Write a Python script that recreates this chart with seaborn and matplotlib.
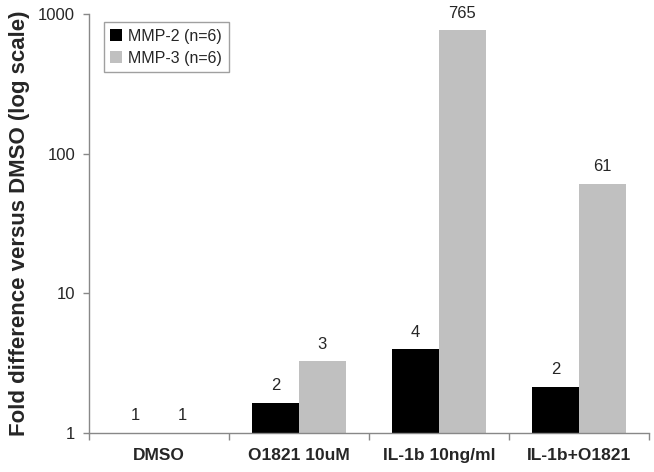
import numpy as np
import pandas as pd
import seaborn as sns
import matplotlib.pyplot as plt
from matplotlib.ticker import FixedLocator, NullFormatter

# values (fold difference vs DMSO)
conditions = ['DMSO', 'O1821 10uM', 'IL-1b 10ng/ml', 'IL-1b+O1821']
mmp2 = [1, 1.64, 3.97, 2.14]
mmp3 = [1, 3.25, 765, 61]
series = ['MMP-2 (n=6)', 'MMP-3 (n=6)']

sns.set_style('white')
plt.rcParams['font.family'] = ['Liberation Sans', 'DejaVu Sans']

# long-form frame for seaborn
df = pd.DataFrame({
    'Condition': conditions * 2,
    'Fold': mmp2 + mmp3,
    'Series': [series[0]] * 4 + [series[1]] * 4,
})

fig = plt.figure(figsize=(6.54, 4.72), dpi=100)
ax = fig.add_axes([0.136, 0.083, 0.856, 0.887])

sns.barplot(data=df, x='Condition', y='Fold', hue='Series',
            palette=['#000000', '#c0c0c0'], width=0.67,
            saturation=1, linewidth=0, ax=ax)
ax.set_yscale('log')
ax.set_ylim(1, 1000)
ax.set_xlim(-0.5, 3.5)

# rounded value labels above each bar
for cont, vals in zip(ax.containers, [mmp2, mmp3]):
    ax.bar_label(cont, labels=[f'{v:.0f}' for v in vals], padding=7, fontsize=12)

# axis styling
for s in ['top', 'right']:
    ax.spines[s].set_visible(False)
for s in ['left', 'bottom']:
    ax.spines[s].set_color('#888888')
    ax.spines[s].set_linewidth(1)

ax.yaxis.set_major_locator(FixedLocator([1, 10, 100, 1000]))
ax.set_yticklabels(['1', '10', '100', '1000'])
ax.yaxis.set_minor_locator(FixedLocator([]))
ax.tick_params(axis='y', which='major', left=True, length=4, width=1,
               color='#888888', labelsize=12, pad=6)

ax.set_xticks(range(len(conditions)))
ax.set_xticklabels(conditions, fontweight='bold', fontsize=12.5)
ax.xaxis.set_minor_locator(FixedLocator([-0.5, 0.5, 1.5, 2.5, 3.5]))
ax.xaxis.set_minor_formatter(NullFormatter())
ax.tick_params(axis='x', which='major', bottom=False, length=0, pad=11)
ax.tick_params(axis='x', which='minor', bottom=True, length=5, width=1, color='#888888')

ax.set_xlabel('')
ax.set_ylabel('Fold difference versus DMSO (log scale)', fontweight='bold', fontsize=16, labelpad=6)

leg = ax.legend(loc='upper left', bbox_to_anchor=(0.012, 1.0), fontsize=11.5,
                frameon=True, fancybox=False, edgecolor='#888888',
                handlelength=0.75, handleheight=0.75, handletextpad=0.4,
                borderpad=0.4, labelspacing=0.45)
leg.get_frame().set_linewidth(1)
leg.set_title(None)

fig.savefig('out.png', dpi=100)
